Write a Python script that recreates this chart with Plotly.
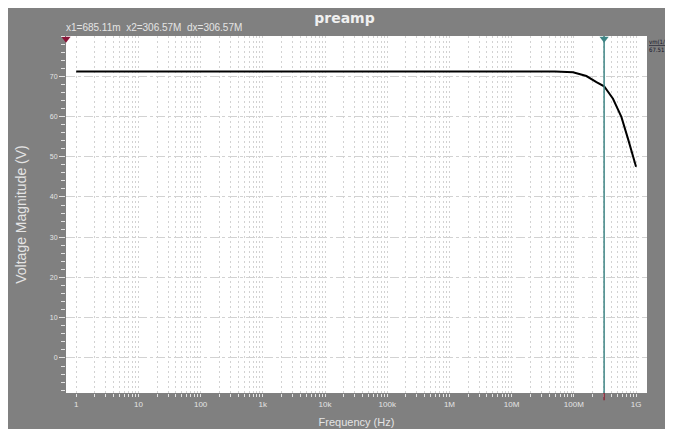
import numpy as np
import plotly.graph_objects as go

# %% data read off the preamp AC sweep
freq_hz = [1, 10, 100, 1e3, 1e4, 1e5, 1e6, 1e7, 5e7, 9.7e7, 1.59e8, 2.31e8,
           3.0657e8, 4.26e8, 5.81e8, 7.41e8, 1e9]
vm_out = [71.2, 71.2, 71.2, 71.2, 71.2, 71.2, 71.2, 71.2, 71.15, 71.0, 70.05,
          68.56, 67.51, 64.4, 59.9, 54.5, 47.5]

x1_cursor = 0.68511
x2_cursor = 306.57e6
cursor_readout = "x1=685.11m  x2=306.57M  dx=306.57M"

y_ticks = [0, 10, 20, 30, 40, 50, 60, 70]
decade_vals = [1, 10, 100, 1e3, 1e4, 1e5, 1e6, 1e7, 1e8, 1e9]
decade_text = ["1", "10", "100", "1k", "10k", "100k", "1M", "10M", "100M", "1G"]

# every 1..9 step of each decade, labels only on the decades
grid_vals = [m * d for d in decade_vals[:-1] for m in range(1, 10)] + [1e9]
grid_text = [decade_text[decade_vals.index(v)] if v in decade_vals else "" for v in grid_vals]

BG = "#808080"
LIGHT = "#e4e4e4"
CURSOR = "#3f8585"
plot_h = 357.5

# %%
fig = go.Figure()
fig.add_trace(go.Scatter(x=freq_hz, y=vm_out, mode="lines",
                         line=dict(color="black", width=2), showlegend=False))

# cursor 2 line (poking a little below the axis) + markers at top
fig.add_vline(x=x2_cursor, line=dict(color=CURSOR, width=1.5))
fig.add_shape(type="line", xref="x", yref="paper", x0=x2_cursor, x1=x2_cursor,
              y0=-0.02, y1=0, line=dict(color="#8a2a3a", width=1.5))
fig.add_trace(go.Scatter(x=[x2_cursor], y=[79.3], mode="markers", cliponaxis=False,
                         marker=dict(symbol="triangle-down", size=8, color=CURSOR),
                         showlegend=False))
fig.add_trace(go.Scatter(x=[x1_cursor], y=[79.3], mode="markers", cliponaxis=False,
                         marker=dict(symbol="triangle-down", size=8, color="#8a1538"),
                         showlegend=False))

fig.update_xaxes(
    type="log", range=[np.log10(0.685), np.log10(1.5e9)],
    tickvals=grid_vals, ticktext=grid_text,
    ticks="outside", ticklen=3, tickcolor=LIGHT,
    tickfont=dict(size=8, color=LIGHT),
    showgrid=True, gridcolor="#d2d2d2", griddash="2px,3px", gridwidth=1,
    zeroline=False, showline=False,
    title=dict(text="Frequency (Hz)", font=dict(size=11, color=LIGHT), standoff=10),
)
fig.update_yaxes(
    range=[-8.7, 80], tickvals=y_ticks,
    ticks="outside", ticklen=6, tickcolor=LIGHT,
    tickfont=dict(size=7, color=LIGHT),
    showgrid=True, gridcolor="#d2d2d2", griddash="dashdot", gridwidth=1,
    minor=dict(dtick=2, ticks="outside", ticklen=4, tickcolor=LIGHT, showgrid=False),
    zeroline=False, showline=False,
    title=dict(text="Voltage Magnitude (V)", font=dict(size=14, color=LIGHT), standoff=19),
)

fig.add_annotation(text=cursor_readout, xref="paper", yref="paper", x=-0.003,
                   y=1 + 8.5 / plot_h, xanchor="left", yanchor="middle", showarrow=False,
                   font=dict(size=10, color=LIGHT))
fig.add_annotation(text="<u>vm(1/)</u><br>67.51", xref="paper", yref="paper", x=1.0,
                   y=1.0, xanchor="left", yanchor="top", align="left", showarrow=False,
                   font=dict(size=6, color="#141428", family="DejaVu Sans Condensed"))

fig.update_layout(
    width=673, height=429,
    margin=dict(l=58, r=34, t=27.5, b=44),
    paper_bgcolor=BG, plot_bgcolor="white",
    font=dict(family="Liberation Sans, Arial, sans-serif"),
    title=dict(text="<b>preamp</b>", x=0.5, xanchor="center", y=1 - 10 / 429,
               yanchor="middle",
               font=dict(size=14, color="#f0f0f0", family="DejaVu Sans")),
    showlegend=False,
)
fig.write_html("out.html")
